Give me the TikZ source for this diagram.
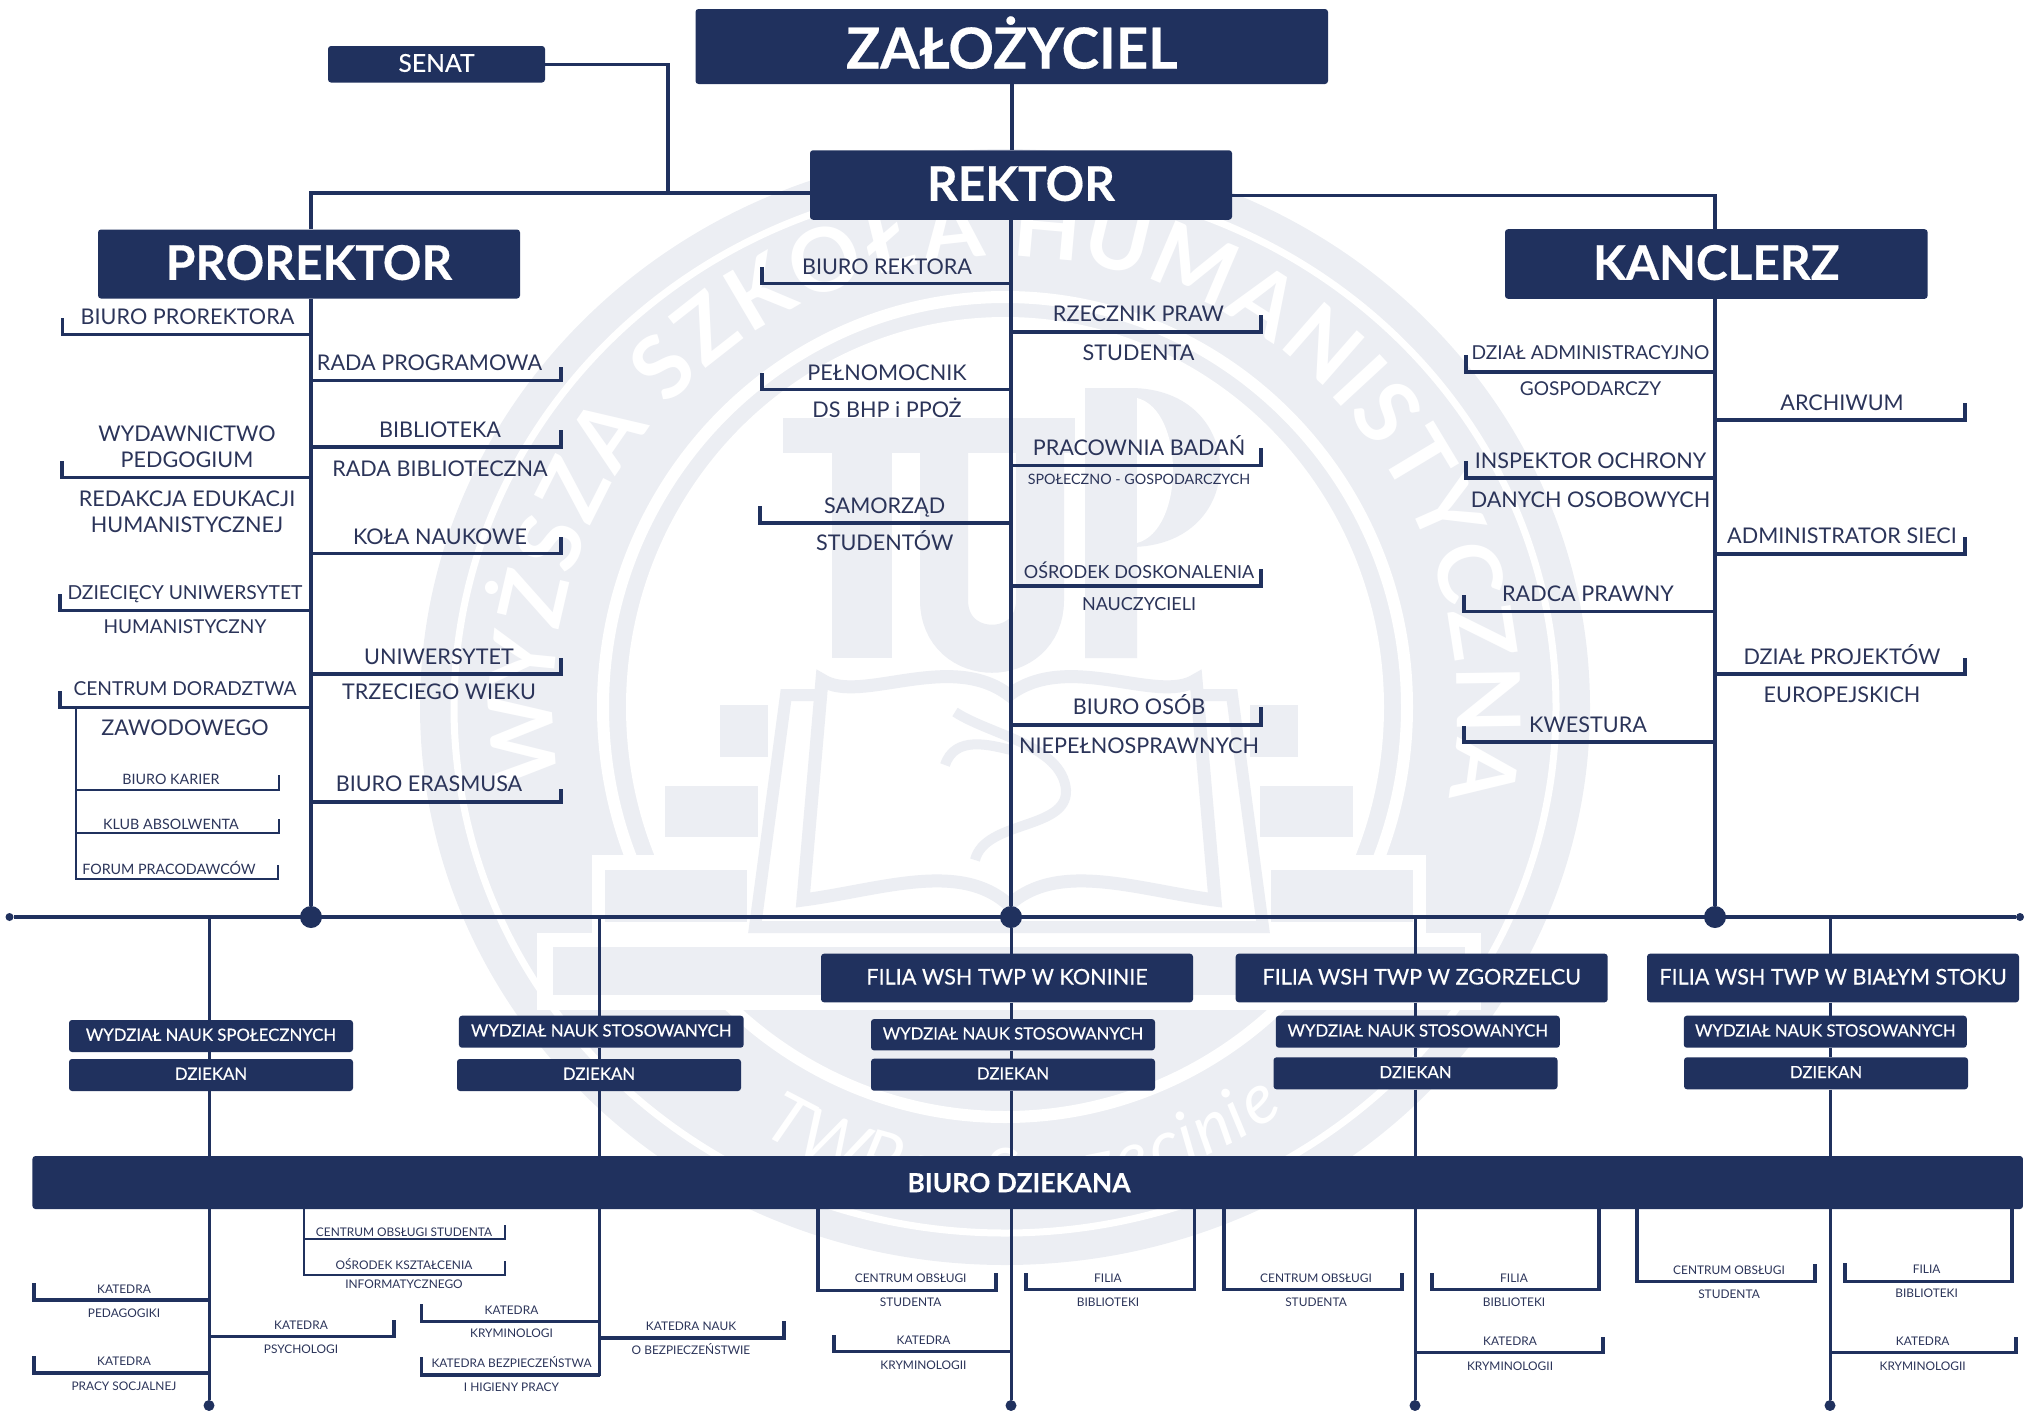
\documentclass[tikz,border=0pt]{standalone}
\usepackage{fontspec}
\setmainfont{Lato}
\newfontfamily\latomed[FakeBold=0.35]{Lato}
\usetikzlibrary{calc}
\definecolor{navyc}{HTML}{20315E}
\definecolor{labelc}{HTML}{2B3459}
\definecolor{palec}{HTML}{ECEEF3}

\begin{document}
\begin{tikzpicture}[x=1pt, y=-1pt,
  navybox/.style={fill=navyc, rounded corners=3pt, inner sep=0pt, text=white},
  lab/.style={font=\fontsize{#1}{#1}\selectfont, text=labelc, inner sep=0pt, text height={0.7165*#1}, text depth=0pt},
  boxlab/.style={font=\fontsize{#1}{#1}\selectfont\latomed, text height={0.7165*#1}, text depth=2.5pt},
  spine/.style={draw=navyc, line width=3.8pt},
  subspine/.style={draw=navyc, line width=3pt},
  branch/.style={draw=navyc, line width=3.5pt},
  subbranch/.style={draw=navyc, line width=3.2pt},
  thinbranch/.style={draw=navyc, line width=2.2pt},
  dotb/.style={circle, fill=navyc, inner sep=0pt, minimum size=#1},
  paleline/.style={draw=palec, line width=#1},
  sealtop/.style={font=\fontsize{88}{88}\selectfont\bfseries, text=white, inner sep=0pt, anchor=south, text height=63pt, text depth=0pt},
  sealbot/.style={font=\fontsize{70}{70}\selectfont\itshape, text=white, inner sep=0pt, anchor=south, text height=50pt, text depth=0pt}]
\useasboundingbox (0,0) rectangle (2027,1411);

% Watermark: rings
\fill[palec] (1005,707) ellipse [x radius=585, y radius=558];
\draw[white, line width=7pt] (1005,707) ellipse [x radius=551, y radius=526];
\draw[white, line width=12pt] (1005,707) ellipse [x radius=402, y radius=410];
\begin{scope}
\clip (0,0) rectangle (2027,1005);
\fill[white] (1005,707) ellipse [x radius=379, y radius=390];
\end{scope}

% Watermark: lettering on the ring
\foreach \ch/\i in {W/.525,Y/1.38,Ż/2.03,S/2.64,Z/3.25,A/3.94,S/4.85,Z/5.46,K/6.13,O/6.89,Ł/7.6,A/8.27,H/9.275,U/10.03,M/10.865,A/11.7,N/12.46,I/13,S/13.44,T/14.03,Y/14.66,C/15.33,Z/15.99,N/16.7,A/17.46} {
  \pgfmathsetmacro\ang{190-\i*11.33}
  \node[sealtop, rotate=\ang-90] at ({1005+452*cos(\ang)},{707-450*sin(\ang)}) {\ch};
}
\foreach \ch/\i in {T/.29,W/1.03,P/1.78,w/2.7,S/3.6,z/4.11,c/4.59,z/5.06,e/5.57,c/6.09,i/6.45,n/6.85,i/7.25,e/7.65} {
  \pgfmathsetmacro\ang{240+\i*8.2}
  \node[sealbot, rotate=\ang+90] at ({1005+492*cos(\ang)},{707-492*sin(\ang)}) {\ch};
}

% Watermark: base and steps
\fill[white] (537,933) rectangle (1481,1010);
\fill[palec] (553,947) rectangle (1465,995);
\fill[white] (592,855) rectangle (1426,933);
\fill[palec] (605,870) rectangle (747,922);
\fill[palec] (1271,870) rectangle (1413,922);
\fill[palec] (665,786) rectangle (758,837);
\fill[palec] (1260,786) rectangle (1353,837);
\fill[palec] (720,705) rectangle (768,757);
\fill[palec] (1250,705) rectangle (1298,757);

% Watermark: monogram
\fill[palec] (783,418) rectangle (1075,453);
\fill[palec] (832,453) rectangle (892,658);
\draw[paleline=48pt] (944,453) -- (944,600) .. controls (944,665) and (1040,665) .. (1040,600) -- (1040,453);
\fill[palec] (1085,388) -- (1130,388) .. controls (1250,388) and (1250,547) .. (1130,547) -- (1137,547) -- (1137,658) -- (1085,658) -- cycle;
\fill[white] (1137,398) .. controls (1185,410) and (1185,530) .. (1137,543) -- cycle;

% Watermark: book and staff
\draw[paleline=12pt] (822,695) -- (786,695) -- (755,927) -- (1263,927) -- (1232,695) -- (1196,695);
\draw[paleline=13pt, fill=white] (822,680) .. controls (860,705) and (950,650) .. (1009,695) .. controls (1068,650) and (1158,705) .. (1196,680) -- (1215,900) .. controls (1138,890) and (1058,860) .. (1009,905) .. controls (960,860) and (880,890) .. (803,900) -- cycle;
\draw[paleline=10pt] (955,712) .. controls (990,735) and (1062,745) .. (1066,790) .. controls (1068,830) and (985,820) .. (975,860);
\draw[paleline=10pt] (945,765) .. controls (955,735) and (990,745) .. (1011,750);

% Main tree points
\coordinate (tl) at (311,193);
\coordinate (tr) at (1715,195.7);
\coordinate (sj) at (668,193);
\node[dotb=22] (dotp) at (311,917) {};
\node[dotb=22] (dotr) at (1011,917) {};
\node[dotb=22] (dotk) at (1715,917) {};
\node[dotb=8] (enda) at (9.5,917) {};
\node[dotb=8] (endb) at (2020,917) {};
\node[dotb=11] (bota) at (209,1405.5) {};
\coordinate (botb) at (599.5,1376);
\node[dotb=11] (botc) at (1011,1405.5) {};
\node[dotb=11] (botd) at (1415,1405.5) {};
\node[dotb=11] (bote) at (1830,1405.5) {};

% Boxes
\node[navybox, boxlab=56.5, text height=44pt, text depth=0pt, minimum width=632.5, minimum height=75] (zalozyciel) at (1011.75,46.5) {\bfseries ZAŁOŻYCIEL};
\foreach \nm/\x/\y/\w/\h/\fs/\txt in {
  senat/436.5/64.25/217/36.5/24.7/SENAT,
  rektor/1021/185/422/69.5/47.8/\bfseries REKTOR,
  prorektor/309/264/422/69/47.8/\bfseries PROREKTOR,
  kanclerz/1716.3/264/422.6/69.6/47.8/\bfseries KANCLERZ,
  filkon/1007/978/372/48.6/21.6/FILIA WSH TWP W KONINIE,
  filzgo/1421.7/978/372/48.6/21.6/FILIA WSH TWP W ZGORZELCU,
  filbia/1833/978/372/48.6/21.6/FILIA WSH TWP W BIAŁYM STOKU,
  wydspo/211/1036/284/32/16.8/WYDZIAŁ NAUK SPOŁECZNYCH,
  dziek/211/1075/284/32/16.8/DZIEKAN,
  wydsta/601.3/1031.7/284.7/32/16.8/WYDZIAŁ NAUK STOSOWANYCH,
  dzieb/599/1075/284/32/16.8/DZIEKAN,
  wydstb/1013/1034.7/284/31.3/16.8/WYDZIAŁ NAUK STOSOWANYCH,
  dziec/1013/1074.7/284/32/16.8/DZIEKAN,
  wydstc/1417.8/1031.7/284/32/16.8/WYDZIAŁ NAUK STOSOWANYCH,
  dzied/1415.5/1073.3/284/32/16.8/DZIEKAN,
  wydstd/1825.3/1031.7/283/32/16.8/WYDZIAŁ NAUK STOSOWANYCH,
  dziee/1826/1073.3/284/32/16.8/DZIEKAN} {
  \node[navybox, boxlab=\fs, minimum width=\w, minimum height=\h] (\nm) at (\x,\y) {\txt};
}
\node[navybox, minimum width=1990.5, minimum height=53] (biuro) at (1027.7,1182.5) {};
\node[boxlab=26.4, text=white, inner sep=0pt] (biurolab) at (1019,1184) {\bfseries BIURO DZIEKANA};

% Main tree lines
\draw[spine] (enda) -- (endb);
\draw[spine] (zalozyciel.south) -- (zalozyciel.south |- rektor.north);
\draw[branch] (senat.east) -- (senat.east -| sj) -- (sj);
\draw[branch] (rektor.west |- tl) -- (tl) -- (tl |- prorektor.north);
\draw[branch] (rektor.east |- tr) -- (tr) -- (tr |- kanclerz.north);
\draw[spine] (prorektor.south -| dotp) -- (dotp);
\draw[spine] (rektor.south -| dotr) -- (dotr);
\draw[spine] (kanclerz.south -| dotk) -- (dotk);

% Lines under the main rail, broken at the boxes they pass
\draw[subspine] (bota |- enda) -- (bota |- wydspo.north);
\draw[subspine] (bota |- wydspo.south) -- (bota |- dziek.north);
\draw[subspine] (bota |- dziek.south) -- (bota |- biuro.north);
\draw[subspine] (bota |- biuro.south) -- (bota);
\draw[subspine] (botb |- enda) -- (botb |- wydsta.north);
\draw[subspine] (botb |- wydsta.south) -- (botb |- dzieb.north);
\draw[subspine] (botb |- dzieb.south) -- (botb |- biuro.north);
\draw[subspine] (botb |- biuro.south) -- (botb);
\draw[subspine] (dotr) -- (dotr |- filkon.north);
\draw[subspine] (dotr |- filkon.south) -- (dotr |- wydstb.north);
\draw[subspine] (dotr |- wydstb.south) -- (dotr |- dziec.north);
\draw[subspine] (dotr |- dziec.south) -- (dotr |- biuro.north);
\draw[subspine] (dotr |- biuro.south) -- (botc);
\draw[subspine] (botd |- enda) -- (botd |- filzgo.north);
\draw[subspine] (botd |- filzgo.south) -- (botd |- wydstc.north);
\draw[subspine] (botd |- wydstc.south) -- (botd |- dzied.north);
\draw[subspine] (botd |- dzied.south) -- (botd |- biuro.north);
\draw[subspine] (botd |- biuro.south) -- (botd);
\draw[subspine] (bote |- enda) -- (bote |- filbia.north);
\draw[subspine] (bote |- filbia.south) -- (bote |- wydstd.north);
\draw[subspine] (bote |- wydstd.south) -- (bote |- dziee.north);
\draw[subspine] (bote |- dziee.south) -- (bote |- biuro.north);
\draw[subspine] (bote |- biuro.south) -- (bote);

% Branches from the spines
\foreach \nm/\xa/\xb/\yl/\yt in {
  bpr/311/62.5/334.6/318, rpr/311/561/380.5/367, wyd/311/62/477.7/461,
  bib/311/561/447/430, kol/311/561/553.4/536.6, dzu/311/60/610.7/594,
  uni/311/561/674/657.5, cdz/311/60/707.7/690.7, era/311/561/802/788.7,
  brk/1011/762/283.7/266.5, rzp/1011/1261/332/315, pel/1011/762/389.7/373,
  pba/1011/1261/465.5/448, sam/1011/760/523/505.7, osd/1011/1261/586/569,
  boo/1011/1261/725/707, dad/1715/1466/372/355, arc/1715/1965/420/403,
  ins/1715/1466/478/461.4, ads/1715/1965/554/537, rad/1715/1464/611.6/595,
  dpr/1715/1965/674/658, kwe/1715/1464/742/725.5} {
  \coordinate (\nm a) at (\xa,\yl);
  \coordinate (\nm b) at (\xb,\yl);
  \coordinate (\nm c) at (\xb,\yt);
  \draw[branch] (\nm a) -- (\nm b) -- (\nm c);
}

% Branches below the office bar
\foreach \nm/\xa/\xb/\yl/\yt in {
  kpe/209/34/1300/1283, kps/209/34/1373/1356, kpy/209/394/1336.7/1320,
  kkr/599.5/421.5/1321.7/1303.7, kbz/599.5/421.5/1375/1357, kna/599.5/784/1338/1321,
  kka/1011/834/1351.7/1335, kkb/1415/1603/1352.7/1336.7, kkc/1830/2016/1352.7/1336.7} {
  \coordinate (\nm a) at (\xa,\yl);
  \coordinate (\nm b) at (\xb,\yl);
  \coordinate (\nm c) at (\xb,\yt);
  \draw[subbranch] (\nm a) -- (\nm b) -- (\nm c);
}

% Brackets hanging from the office bar
\foreach \nm/\xa/\xb/\yl/\yt in {
  csa/818/996/1290.7/1273, fba/1194.5/1026/1289.3/1272.7, csb/1224/1402/1289.3/1272.7,
  fbb/1599/1432/1289.3/1272.7, csc/1637/1815/1281.7/1264.3, fbc/2012/1845/1281.7/1263} {
  \coordinate (\nm t) at (\xa,1209);
  \coordinate (\nm a) at (\xa,\yl);
  \coordinate (\nm b) at (\xb,\yl);
  \coordinate (\nm c) at (\xb,\yt);
  \draw[subbranch] (\nm t) -- (\nm a) -- (\nm b) -- (\nm c);
}

% Thin branches
\coordinate (fort) at (76,707.7);
\coordinate (fora) at (76,878.7);
\coordinate (forb) at (278,878.7);
\coordinate (forc) at (278,865);
\draw[thinbranch] (fort) -- (fora) -- (forb) -- (forc);
\coordinate (oskt) at (303.6,1209);
\coordinate (oska) at (303.6,1275);
\coordinate (oskb) at (505,1275);
\coordinate (oskc) at (505,1261);
\draw[thinbranch] (oskt) -- (oska) -- (oskb) -- (oskc);
\foreach \nm/\xa/\xb/\yl/\yt in {
  kar/76/278.7/789.7/775, klu/76/279/833/819, cob/303.6/505/1239/1225} {
  \coordinate (\nm a) at (\xa,\yl);
  \coordinate (\nm b) at (\xb,\yl);
  \coordinate (\nm c) at (\xb,\yt);
  \draw[thinbranch] (\nm a) -- (\nm b) -- (\nm c);
}

% Labels
\foreach \nm/\x/\y/\fs/\txt in {
  bprl/187.5/317/21.6/BIURO PROREKTORA, rprl/429.5/363/21.6/RADA PROGRAMOWA,
  wydl/187/433.5/21.6/WYDAWNICTWO, wydm/187/459.6/21.6/PEDGOGIUM,
  redl/187/498.7/21.6/REDAKCJA EDUKACJI, redm/187/524.8/21.6/HUMANISTYCZNEJ,
  bibl/440/430/21.6/BIBLIOTEKA, bibm/440/468.4/21.6/RADA BIBLIOTECZNA,
  koll/440/536.6/21.6/KOŁA NAUKOWE, dzul/185/592.6/19.3/DZIECIĘCY UNIWERSYTET,
  dzum/185/627/19.1/HUMANISTYCZNY, unil/439/657/21.6/UNIWERSYTET,
  unim/439/691.7/21.6/TRZECIEGO WIEKU, cdzl/185/689/19.2/CENTRUM DORADZTWA,
  cdzm/185/728/21.6/ZAWODOWEGO, eral/429/784/21.6/BIURO ERASMUSA,
  karl/171/779/14.3/BIURO KARIER, klul/171/824/14.3/KLUB ABSOLWENTA,
  forl/169/869.7/14.3/FORUM PRACODAWCÓW,
  brkl/887/266.5/21.6/BIURO REKTORA, rzpl/1138.5/314/21.6/RZECZNIK PRAW,
  rzpm/1138.5/352.6/21.6/STUDENTA, pell/887/372.5/21.6/PEŁNOMOCNIK,
  pelm/887/410/21.6/DS BHP i PPOŻ, pbal/1139/447.5/21.6/PRACOWNIA BADAŃ,
  pbam/1139/479/14.3/SPOŁECZNO - GOSPODARCZYCH, saml/884.7/505.7/21.6/SAMORZĄD,
  samm/884.7/543/21.6/STUDENTÓW, osdl/1139/572/18/OŚRODEK DOSKONALENIA,
  osdm/1139/604.4/18/NAUCZYCIELI, bool/1139/707/21.6/BIURO OSÓB,
  boom/1139/745.7/21.6/NIEPEŁNOSPRAWNYCH,
  dadl/1590.5/353/19.2/DZIAŁ ADMINISTRACYJNO, dadm/1590.5/389/19.1/GOSPODARCZY,
  arcl/1842/403/21.6/ARCHIWUM, insl/1590.5/461/21.6/INSPEKTOR OCHRONY,
  insm/1590.5/500/21.6/DANYCH OSOBOWYCH, adsl/1842/536/21.6/ADMINISTRATOR SIECI,
  radl/1588/594/21.6/RADCA PRAWNY, dprl/1842/657/21.6/DZIAŁ PROJEKTÓW,
  dprm/1842/695/21.6/EUROPEJSKICH, kwel/1588/724.7/21.6/KWESTURA,
  cobl/404/1232/11.9/CENTRUM OBSŁUGI STUDENTA, oskl/404/1265.7/11.9/OŚRODEK KSZTAŁCENIA,
  oskm/404/1284.7/11.9/INFORMATYCZNEGO, kpel/124/1289/11.9/KATEDRA,
  kpem/124/1313/11.9/PEDAGOGIKI, kpsl/124/1361.7/11.9/KATEDRA,
  kpsm/124/1386/11.9/PRACY SOCJALNEJ, kpyl/301/1325/11.9/KATEDRA,
  kpym/301/1349/11.9/PSYCHOLOGI, kkrl/511.5/1310/11.9/KATEDRA,
  kkrm/511.5/1333.7/11.9/KRYMINOLOGI, kbzl/511.5/1363/11.9/KATEDRA BEZPIECZEŃSTWA,
  kbzm/511.5/1387/11.9/I HIGIENY PRACY, knal/691/1326.7/11.9/KATEDRA NAUK,
  knam/691/1350.7/11.9/O BEZPIECZEŃSTWIE, csal/910.7/1278/11.9/CENTRUM OBSŁUGI,
  csam/910.7/1302/11.9/STUDENTA, kkal/923.5/1340.7/11.9/KATEDRA,
  kkam/923.5/1365/11.9/KRYMINOLOGII, fbal/1108/1278/11.9/FILIA,
  fbam/1108/1302/11.9/BIBLIOTEKI, csbl/1316/1278/11.9/CENTRUM OBSŁUGI,
  csbm/1316/1302/11.9/STUDENTA, fbbl/1514/1278/11.9/FILIA,
  fbbm/1514/1302/11.9/BIBLIOTEKI, kkbl/1510/1341.7/11.9/KATEDRA,
  kkbm/1510/1366/11.9/KRYMINOLOGII, cscl/1729/1270/11.9/CENTRUM OBSŁUGI,
  cscm/1729/1294/11.9/STUDENTA, fbcl/1926.6/1269/11.9/FILIA,
  fbcm/1926.6/1293/11.9/BIBLIOTEKI, kkcl/1922.7/1341.7/11.9/KATEDRA,
  kkcm/1922.7/1366/11.9/KRYMINOLOGII} {
  \node[lab=\fs] (\nm) at (\x,\y) {\txt};
}
\end{tikzpicture}
\end{document}
